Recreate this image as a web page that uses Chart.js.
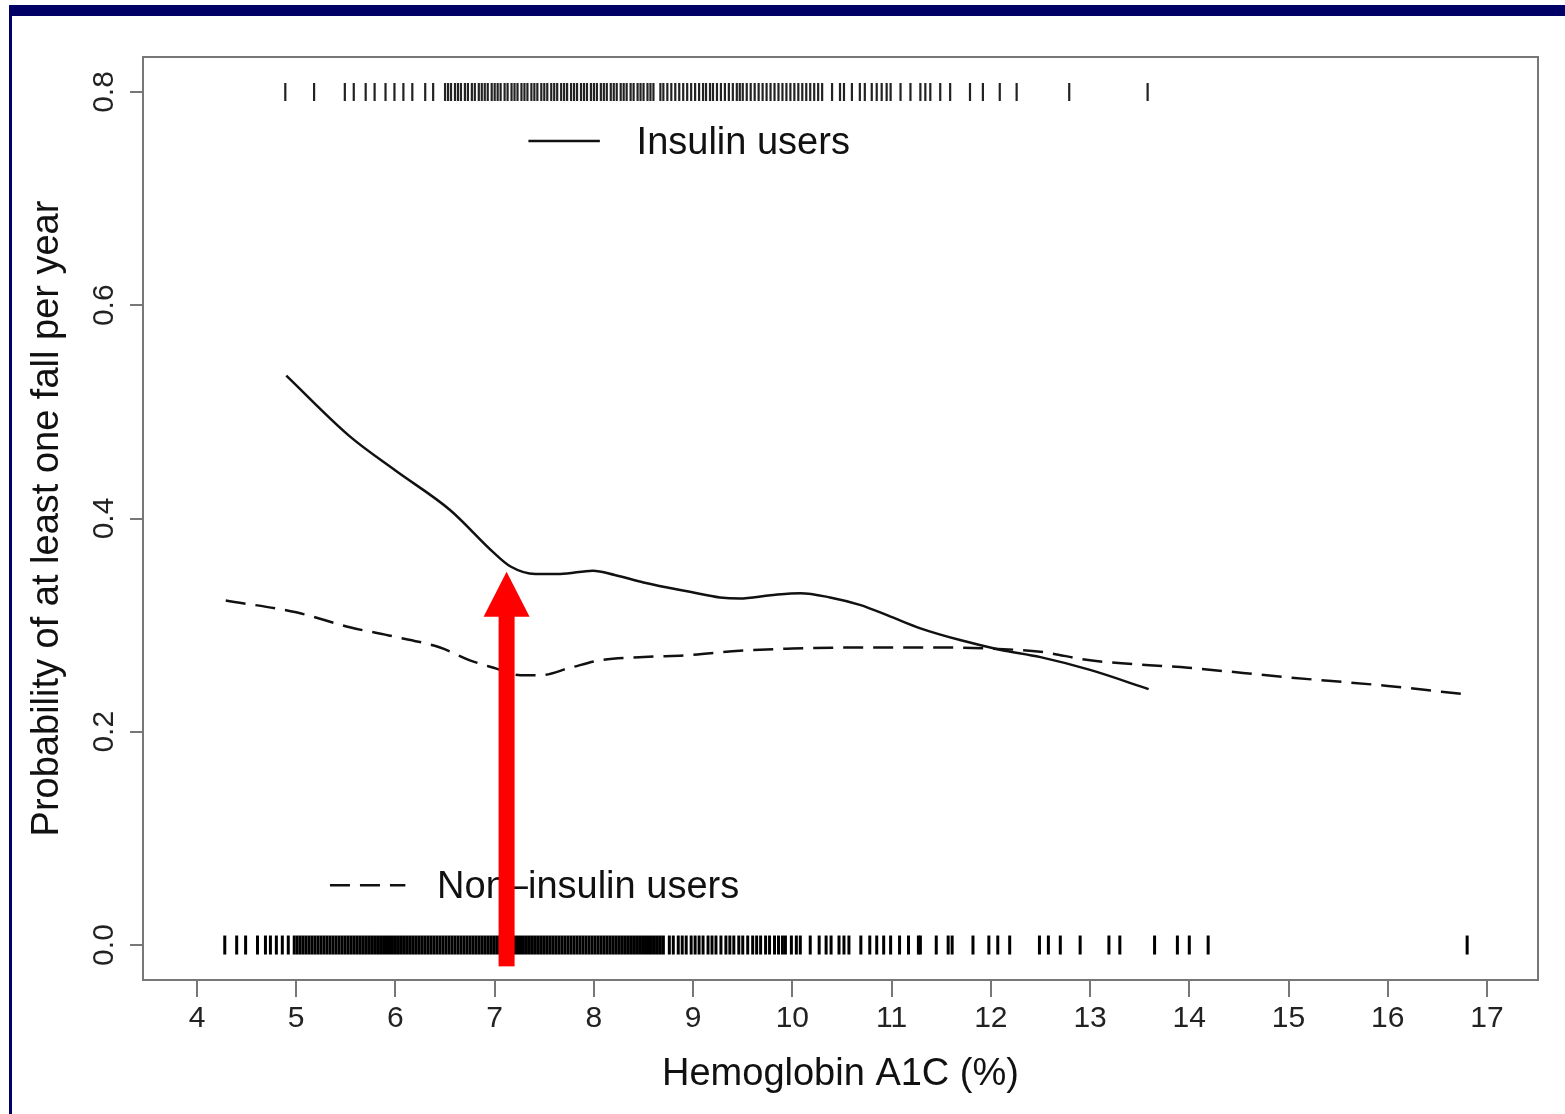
<!DOCTYPE html>
<html>
<head>
<meta charset="utf-8">
<script src="https://cdn.jsdelivr.net/npm/chart.js@4/dist/chart.umd.min.js"></script>
<style>
  html, body { margin: 0; padding: 0; background: #fff; }
  .bar { position: absolute; background: #000066; }
  #top { left: 9px; top: 5px; width: 1556px; height: 11px; }
  #side { left: 9px; top: 5px; width: 3px; height: 1109px; }
  #fallChart { position: absolute; left: 0; top: 0; }
</style>
</head>
<body>
<div class="bar" id="top"></div>
<div class="bar" id="side"></div>
<canvas id="fallChart" width="1565" height="1114"></canvas>
<script>
// fitted curves
var insulinX = [4.9, 5.54, 6.0, 6.55, 6.99, 7.16, 7.41, 7.66, 7.99, 8.21, 8.5, 8.98, 9.27, 9.47, 9.78, 10.08, 10.38, 10.68, 10.99, 11.29, 11.69, 12.09, 12.5, 13.0, 13.59];
var insulinY = [0.534, 0.477, 0.445, 0.408, 0.368, 0.355, 0.348, 0.348, 0.351, 0.347, 0.34, 0.331, 0.326, 0.325, 0.328, 0.33, 0.326, 0.319, 0.308, 0.297, 0.286, 0.277, 0.27, 0.258, 0.24];
var nonInsulinX = [4.29, 5.0, 5.54, 6.0, 6.45, 6.75, 6.99, 7.26, 7.46, 7.76, 8.06, 8.5, 8.98, 9.47, 10.0, 10.58, 11.59, 11.99, 12.5, 13.0, 13.99, 15.0, 16.0, 16.79];
var nonInsulinY = [0.323, 0.312, 0.298, 0.289, 0.279, 0.267, 0.26, 0.253, 0.253, 0.26, 0.267, 0.27, 0.272, 0.276, 0.278, 0.279, 0.279, 0.278, 0.275, 0.267, 0.26, 0.251, 0.243, 0.235];

// rug marks (observed HbA1c values)
var insulinRug = [4.89, 5.18, 5.49, 5.58, 5.7, 5.79, 5.9, 5.99, 6.08, 6.17, 6.3, 6.38,
  6.5, 6.53, 6.56, 6.6, 6.63, 6.66, 6.7, 6.73, 6.77, 6.8, 6.84, 6.87, 6.9, 6.93, 6.97, 7.0, 7.03, 7.06, 7.1, 7.13,
  7.17, 7.2, 7.23, 7.27, 7.3, 7.33, 7.37, 7.4, 7.43, 7.47, 7.5, 7.53, 7.57, 7.6, 7.63, 7.67, 7.7, 7.73, 7.77, 7.8,
  7.83, 7.87, 7.9, 7.93, 7.97, 8.0, 8.03, 8.07, 8.1, 8.13, 8.17, 8.2, 8.23, 8.27, 8.3, 8.33, 8.37, 8.4, 8.44, 8.47,
  8.5, 8.54, 8.57, 8.6, 8.67, 8.7, 8.74, 8.78, 8.82, 8.86, 8.9, 8.94, 8.98, 9.02, 9.06, 9.1, 9.13, 9.17, 9.2, 9.24,
  9.28, 9.32, 9.36, 9.4, 9.44, 9.47, 9.5, 9.54, 9.58, 9.62, 9.66, 9.7, 9.74, 9.78, 9.82, 9.86, 9.9, 9.94, 9.98,
  10.02, 10.06, 10.1, 10.14, 10.18, 10.22, 10.26, 10.3,
  10.4, 10.48, 10.52, 10.6, 10.68, 10.73, 10.8, 10.85, 10.9, 10.95, 10.99, 11.09, 11.19, 11.29, 11.34, 11.39,
  11.49, 11.59, 11.79, 11.92, 12.09, 12.26, 12.79, 13.58];
var nonInsulinRug = [4.28, 4.4, 4.49, 4.61, 4.69, 4.74, 4.8, 4.86, 4.92,
  4.98, 5.01, 5.04, 5.07, 5.1, 5.13, 5.16, 5.19, 5.22, 5.25, 5.28, 5.31, 5.34, 5.37, 5.4, 5.43, 5.46, 5.49, 5.52,
  5.55, 5.58, 5.61, 5.64, 5.67, 5.7, 5.73, 5.76, 5.79, 5.82, 5.85, 5.88, 5.91, 5.94, 5.97, 6.0, 6.03, 6.06, 6.09,
  6.12, 6.15, 6.18, 6.21, 6.24, 6.27, 6.3, 6.33, 6.36, 6.39, 6.42, 6.45, 6.48, 6.51, 6.54, 6.57, 6.6, 6.63, 6.66,
  6.69, 6.72, 6.75, 6.78, 6.81, 6.84, 6.87, 6.9, 6.93, 6.96, 6.99, 7.02, 7.05, 7.08, 7.11, 7.14, 7.17, 7.2, 7.23,
  7.26, 7.29, 7.32, 7.35, 7.38, 7.41, 7.44, 7.47, 7.5, 7.53, 7.56, 7.59, 7.62, 7.65, 7.68, 7.71, 7.74, 7.77, 7.8,
  7.83, 7.86, 7.89, 7.92, 7.95, 7.98, 8.01, 8.04, 8.07, 8.1, 8.13, 8.16, 8.19, 8.22, 8.25, 8.28, 8.31, 8.34, 8.37,
  8.4, 8.43, 8.46, 8.49, 8.52, 8.55, 8.58, 8.61, 8.64, 8.67, 8.7,
  8.76, 8.8, 8.85, 8.89, 8.93, 8.98, 9.02, 9.06, 9.1, 9.15, 9.19, 9.23, 9.28, 9.33, 9.37, 9.41, 9.46, 9.5, 9.55,
  9.6, 9.64, 9.68, 9.73, 9.77, 9.82, 9.86, 9.9, 9.93, 9.99, 10.04, 10.08, 10.18, 10.27, 10.34, 10.39, 10.47,
  10.52, 10.57, 10.69, 10.78, 10.85, 10.92, 10.99, 11.08, 11.17, 11.27, 11.29, 11.45, 11.57, 11.61, 11.82,
  11.98, 12.07, 12.19, 12.49, 12.58, 12.7, 12.9, 13.19, 13.3, 13.65, 13.88, 14.0, 14.19, 16.8];

var xTicks = [4, 5, 6, 7, 8, 9, 10, 11, 12, 13, 14, 15, 16, 17];
var yTicks = [0, 0.2, 0.4, 0.6, 0.8];
var seriesNames = ["Insulin users", "Non\u2013insulin users"];
var arrowX = 7.12, arrowFrom = -0.02, arrowTo = 0.35;

function toPoints(xs, ys) {
  return xs.map((x, i) => ({ x: x, y: ys[i] }));
}
function rugPoints(xs, level) {
  return xs.map((x) => ({ x: x, y: level }));
}

var font = '"Liberation Sans", Arial, sans-serif';

// box, legend and the red arrow
var overlay = {
  id: "overlay",
  afterDatasetsDraw(chart) {
    let ctx = chart.ctx;
    let a = chart.chartArea;
    let xs = chart.scales.x;
    let ys = chart.scales.y;
    ctx.save();
    ctx.strokeStyle = "#777";
    ctx.lineWidth = 2;
    ctx.strokeRect(a.left, a.top, a.right - a.left, a.bottom - a.top);

    ctx.font = "38px " + font;
    ctx.fillStyle = "#111";
    ctx.textBaseline = "middle";
    ctx.strokeStyle = "#111";
    ctx.lineWidth = 2.5;
    // insulin users
    let y1 = ys.getPixelForValue(0.754);
    ctx.beginPath();
    ctx.moveTo(xs.getPixelForValue(7.34), y1);
    ctx.lineTo(xs.getPixelForValue(8.06), y1);
    ctx.stroke();
    ctx.fillText(seriesNames[0], xs.getPixelForValue(8.43), y1 + 2);
    // non-insulin users
    let y2 = ys.getPixelForValue(0.056);
    ctx.setLineDash([20, 10]);
    ctx.beginPath();
    ctx.moveTo(xs.getPixelForValue(5.34), y2);
    ctx.lineTo(xs.getPixelForValue(6.1), y2);
    ctx.stroke();
    ctx.setLineDash([]);
    ctx.fillText(seriesNames[1], xs.getPixelForValue(6.42), y2 + 2);

    // arrow
    let ax = xs.getPixelForValue(arrowX);
    let yb = ys.getPixelForValue(arrowFrom);
    let yt = ys.getPixelForValue(arrowTo);
    ctx.fillStyle = "#ff0000";
    ctx.fillRect(ax - 8, yt + 44, 16, yb - yt - 44);
    ctx.beginPath();
    ctx.moveTo(ax, yt);
    ctx.lineTo(ax + 23, yt + 45);
    ctx.lineTo(ax - 23, yt + 45);
    ctx.closePath();
    ctx.fill();
    ctx.restore();
  },
};

var ctx = document.getElementById("fallChart").getContext("2d");
var fallChart = new Chart(ctx, {
  type: "scatter",
  data: {
    datasets: [
      {
        label: "insulin rug",
        data: rugPoints(insulinRug, 0.8),
        pointStyle: "line",
        pointRotation: 90,
        pointRadius: 9,
        pointBorderColor: "#222",
        pointBorderWidth: 2.2,
        showLine: false,
      },
      {
        label: "non-insulin rug",
        data: rugPoints(nonInsulinRug, 0),
        pointStyle: "line",
        pointRotation: 90,
        pointRadius: 9.5,
        pointBorderColor: "#000",
        pointBorderWidth: 3,
        showLine: false,
      },
      {
        label: seriesNames[0],
        data: toPoints(insulinX, insulinY),
        showLine: true,
        pointRadius: 0,
        borderColor: "#111",
        borderWidth: 2.5,
        cubicInterpolationMode: "monotone",
      },
      {
        label: seriesNames[1],
        data: toPoints(nonInsulinX, nonInsulinY),
        showLine: true,
        pointRadius: 0,
        borderColor: "#111",
        borderWidth: 2.5,
        borderDash: [20, 10],
        cubicInterpolationMode: "monotone",
      },
    ],
  },
  options: {
    responsive: false,
    animation: false,
    devicePixelRatio: 1,
    layout: { padding: { left: 0, top: 57, right: 27, bottom: 0 } },
    plugins: { legend: { display: false }, tooltip: { enabled: false } },
    scales: {
      x: {
        type: "linear",
        min: 3.456,
        max: 17.514,
        afterBuildTicks: (s) => { s.ticks = xTicks.map((v) => ({ value: v })); },
        afterFit: (s) => { s.height = 134; },
        border: { display: false },
        grid: { drawOnChartArea: false, drawTicks: true, tickLength: 17, color: "#777", lineWidth: 2 },
        ticks: { font: { size: 30, family: font }, color: "#222", padding: 4, maxRotation: 0, autoSkip: false },
        title: {
          display: true,
          text: "Hemoglobin A1C (%)",
          font: { size: 38, family: font },
          color: "#111",
          padding: { top: 0, bottom: 17 },
        },
      },
      y: {
        type: "linear",
        min: -0.0328,
        max: 0.8328,
        afterBuildTicks: (s) => { s.ticks = yTicks.map((v) => ({ value: v })); },
        afterFit: (s) => { s.width = 143; },
        border: { display: false },
        grid: { drawOnChartArea: false, drawTicks: true, tickLength: 13, color: "#777", lineWidth: 2 },
        ticks: {
          font: { size: 30, family: font },
          color: "#222",
          padding: 4,
          minRotation: 90,
          maxRotation: 90,
          crossAlign: "center",
          callback: (v) => Number(v).toFixed(1),
        },
        title: {
          display: true,
          text: "Probability of at least one fall per year",
          font: { size: 38, family: font },
          color: "#111",
          padding: { top: 25, bottom: 0 },
        },
      },
    },
  },
  plugins: [overlay],
});
</script>
</body>
</html>
